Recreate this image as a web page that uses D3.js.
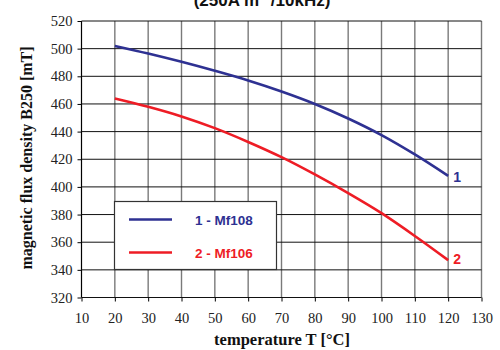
<!DOCTYPE html>
<html><head><meta charset="utf-8">
<script src="https://cdn.jsdelivr.net/npm/d3@7"></script>
<style>body{margin:0;background:#fff}svg{display:block}
.serif{font-family:"Liberation Serif","Times New Roman",serif}
.sans{font-family:"Liberation Sans",Arial,sans-serif}
</style>
</head><body>
<script>
const temps = [20,30,40,50,60,70,80,90,100,110,120];
const mf108 = [502,496.5,490.5,484,477,469,460,449.5,437.5,423.5,408];
const mf106 = [464,458,451,442.5,432.5,421.5,409,395.5,381,364.5,347];
const seriesNames = ["1 - Mf108","2 - Mf106"];
const endLabels = ["1","2"];
const xTicks = [10,20,30,40,50,60,70,80,90,100,110,120,130];
const yTicks = [320,340,360,380,400,420,440,460,480,500,520];
const colors = ["#2E3192","#EE1C25"];

const W=500,H=350;
const svg=d3.select("body").append("svg").attr("width",W).attr("height",H);
const x=d3.scaleLinear().domain([10,130]).range([81.5,481.5]);
const y=d3.scaleLinear().domain([320,520]).range([297.5,21]);

// title (partially cut off at top, as in the reference)
svg.append("text").attr("class","sans").attr("x",262).attr("y",6).attr("text-anchor","middle")
  .style("font-weight","bold").style("font-size","17px")
  .attr("fill","#111").text("(250A m⁻¹/10kHz)");

// grid
svg.append("g").selectAll("line").data(xTicks).join("line")
  .attr("x1",d=>x(d)).attr("x2",d=>x(d)).attr("y1",y(520)).attr("y2",y(320))
  .attr("stroke",d=>d===10?"#000":"#7a7a7a").attr("stroke-width",d=>d===10?1.2:1.4);
svg.append("g").selectAll("line").data(yTicks).join("line")
  .attr("x1",x(10)).attr("x2",x(130)).attr("y1",d=>y(d)).attr("y2",d=>y(d))
  .attr("stroke","#111").attr("stroke-width",d=>d===320?1.2:1);

// axes
const ya=svg.append("g").attr("transform",`translate(${x(10)},0)`)
  .call(d3.axisLeft(y).tickValues(yTicks).tickSize(4).tickPadding(5));
ya.attr("font-family",null).attr("font-size",null);
ya.select(".domain").remove();
ya.selectAll("line").attr("stroke","#000");
ya.selectAll("text").attr("class","serif").style("font-size","14.5px").attr("fill","#222");
const xa=svg.append("g").attr("transform",`translate(0,${y(320)})`)
  .call(d3.axisBottom(x).tickValues(xTicks).tickSize(4).tickPadding(11));
xa.attr("font-family",null).attr("font-size",null);
xa.select(".domain").remove();
xa.selectAll("line").attr("stroke","#000");
xa.selectAll("text").attr("class","serif").style("font-size","14.5px").attr("fill","#222");

// axis titles
svg.append("text").attr("class","serif").attr("transform","translate(32,158) rotate(-90)").attr("text-anchor","middle")
  .style("font-weight","bold").style("font-size","16px").attr("fill","#111")
  .text("magnetic flux density B250 [mT]");
svg.append("text").attr("class","serif").attr("x",282).attr("y",345).attr("text-anchor","middle")
  .style("font-weight","bold").style("font-size","16.5px").attr("fill","#111")
  .text("temperature T [°C]");

// curves
const line=d3.line().x(d=>x(d[0])).y(d=>y(d[1])).curve(d3.curveMonotoneX);
[mf108,mf106].forEach((s,i)=>{
  const pts=temps.map((t,j)=>[t,s[j]]);
  svg.append("path").attr("d",line(pts)).attr("fill","none")
    .attr("stroke",colors[i]).attr("stroke-width",2.6);
  svg.append("text").attr("class","sans").attr("x",x(120)+5).attr("y",y(s[s.length-1])+(i===0?6:4))
    .style("font-weight","bold").style("font-size","14px")
    .attr("fill",colors[i]).text(endLabels[i]);
});

// legend
const lg=svg.append("g");
lg.append("rect").attr("x",114.5).attr("y",201.5).attr("width",162).attr("height",68)
  .attr("fill","#fff").attr("stroke","#333").attr("stroke-width",1.2);
seriesNames.forEach((n,i)=>{
  const yy=219.5+i*33;
  lg.append("line").attr("x1",129).attr("x2",172).attr("y1",yy).attr("y2",yy)
    .attr("stroke",colors[i]).attr("stroke-width",2.6);
  lg.append("text").attr("class","sans").attr("x",195).attr("y",yy+5)
    .style("font-weight","bold").style("font-size","13.5px").attr("fill",colors[i]).text(n);
});
</script>
</body></html>
